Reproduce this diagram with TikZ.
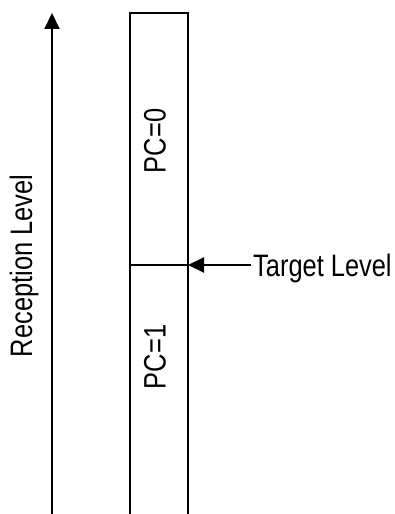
\documentclass[tikz,border=0pt]{standalone}
\usepackage{fontspec}
\setmainfont{Liberation Sans}[FakeStretch=0.82]
\usetikzlibrary{arrows.meta}
\begin{document}
\begin{tikzpicture}[x=1pt,y=1pt,
  ln/.style={line width=2pt, line cap=butt},
  arr/.style={ln, -{Triangle[length=16pt,width=15pt]}},
  lbl/.style={inner sep=0pt, font=\fontsize{31}{33}\selectfont}]
\useasboundingbox (0,0) rectangle (394,514);
% axis
\coordinate (axb) at (52,0);
\coordinate (axt) at (52,501);
\draw[arr] (axb) -- (axt);
% box
\coordinate (bl) at (130,0);
\coordinate (tl) at (130,501);
\coordinate (tr) at (188,501);
\coordinate (br) at (188,0);
\draw[ln, line join=miter] (bl) -- (tl) -- (tr) -- (br);
% divider
\coordinate (dl) at (130,249);
\coordinate (dr) at (188,249);
\draw[ln] (dl) -- (dr);
% target arrow
\coordinate (ts) at (251,249);
\draw[arr] (ts) -- (dr);
% labels
\node[lbl, rotate=90] (rl) at (24,248) {Reception Level};
\node[lbl, rotate=90] (pc0) at (155,373) {PC=0};
\node[lbl, rotate=90] (pc1) at (155,157) {PC=1};
\node[lbl, anchor=base west] (tgt) at (253,237) {Target Level};
\end{tikzpicture}
\end{document}
